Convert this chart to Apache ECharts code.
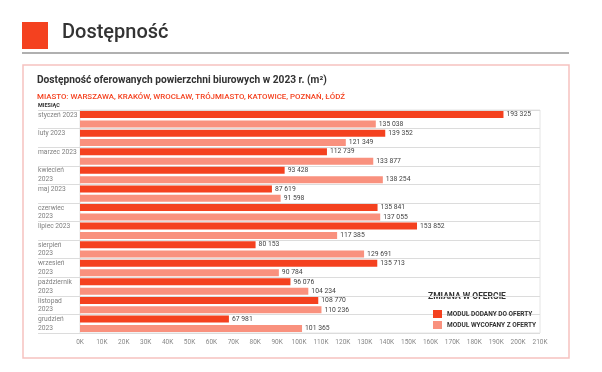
<!DOCTYPE html>
<html><head><meta charset="utf-8">
<script src="https://cdn.jsdelivr.net/npm/echarts@6/dist/echarts.min.js"></script>
<style>html,body{margin:0;padding:0;background:#fff;}#c{width:602px;height:372px;}</style>
</head><body><div id="c"></div>
<script>
const categories = ['styczeń 2023','luty 2023','marzec 2023','kwiecień\n2023','maj 2023','czerwiec\n2023','lipiec 2023','sierpień\n2023','wrzesień\n2023','październik\n2023','listopad\n2023','grudzień\n2023'];
const dodany = [193325,139352,112739,93428,87619,135841,153852,80153,135713,96076,108770,67981];
const wycofany = [135038,121349,133877,138254,91598,137055,117385,129691,90784,104234,110236,101365];
const seriesNames = ['MODUŁ DODANY DO OFERTY','MODUŁ WYCOFANY Z OFERTY'];
const xMax = 210000, xStep = 10000;

const fmt = v => String(v).replace(/\B(?=(\d{3})+(?!\d))/g, ' ');
const chart = echarts.init(document.getElementById('c'), null, {renderer:'canvas'});
const F = 'Roboto, "Noto Sans", sans-serif';
chart.setOption({
  animation:false,
  textStyle:{fontFamily:F},
  graphic:[
    {type:'rect', shape:{x:22,y:22,width:26,height:27}, style:{fill:'#f4411f'}},
    {type:'text', left:62, top:23, style:{text:'Dostępność', font:'500 20px '+F, fill:'#333'}},
    {type:'rect', shape:{x:22,y:52,width:547,height:2}, style:{fill:'#b0b0b0'}},
    {type:'rect', shape:{x:23,y:65,width:546,height:293}, style:{fill:'none', stroke:'#f6c2c0', lineWidth:1.5}},
    {type:'text', left:37, top:75, style:{text:'Dostępność oferowanych powierzchni biurowych w 2023 r. (m²)', font:'700 10.2px '+F, fill:'#333'}},
    {type:'text', left:37, top:93, style:{text:'MIASTO: WARSZAWA, KRAKÓW, WROCŁAW, TRÓJMIASTO, KATOWICE, POZNAŃ, ŁÓDŹ', font:'500 7.9px '+F, fill:'#f4411f'}},
    {type:'text', left:38, top:103, style:{text:'MIESIĄC', font:'700 5.5px '+F, fill:'#333'}},
    {type:'text', left:428, top:292, style:{text:'ZMIANA W OFERCIE', font:'700 8.5px '+F, fill:'#333'}}
  ],
  legend:{
    orient:'vertical', left:428, top:305, itemWidth:9, itemHeight:8, itemGap:3,
    icon:'rect',
    textStyle:{fontSize:6.5, fontWeight:700, color:'#333', fontFamily:F},
    data:seriesNames
  },
  grid:{left:80, right:62, top:110, bottom:39, show:true, borderColor:'#e4e4e4', borderWidth:1},
  xAxis:{
    type:'value', min:0, max:xMax, interval:xStep,
    axisLine:{show:false}, axisTick:{show:false}, splitLine:{show:false},
    axisLabel:{fontSize:6.5, color:'#888', margin:6, formatter:v=>(v/1000)+'K'}
  },
  yAxis:{
    type:'category', data:categories, inverse:true,
    axisLine:{show:false},
    axisTick:{show:true, length:42, lineStyle:{color:'#dcdcdc'}},
    splitLine:{show:true, lineStyle:{color:'#dcdcdc'}},
    axisLabel:{
      align:'left', margin:42, fontSize:6.7, color:'#808080', lineHeight:8.6,
      formatter:v => v.indexOf('\n')>=0 ? v : v+'\n '
    }
  },
  series:[
    {name:seriesNames[0], type:'bar', data:dodany, barWidth:7, barGap:'35%', itemStyle:{color:'#f4411f'},
     label:{show:true, position:'right', distance:3, fontSize:6.8, color:'#444', formatter:p=>fmt(p.value)}},
    {name:seriesNames[1], type:'bar', data:wycofany, barWidth:7, barGap:'35%', itemStyle:{color:'#f9917e'},
     label:{show:true, position:'right', distance:3, fontSize:6.8, color:'#444', formatter:p=>fmt(p.value)}}
  ]
});
</script></body></html>
